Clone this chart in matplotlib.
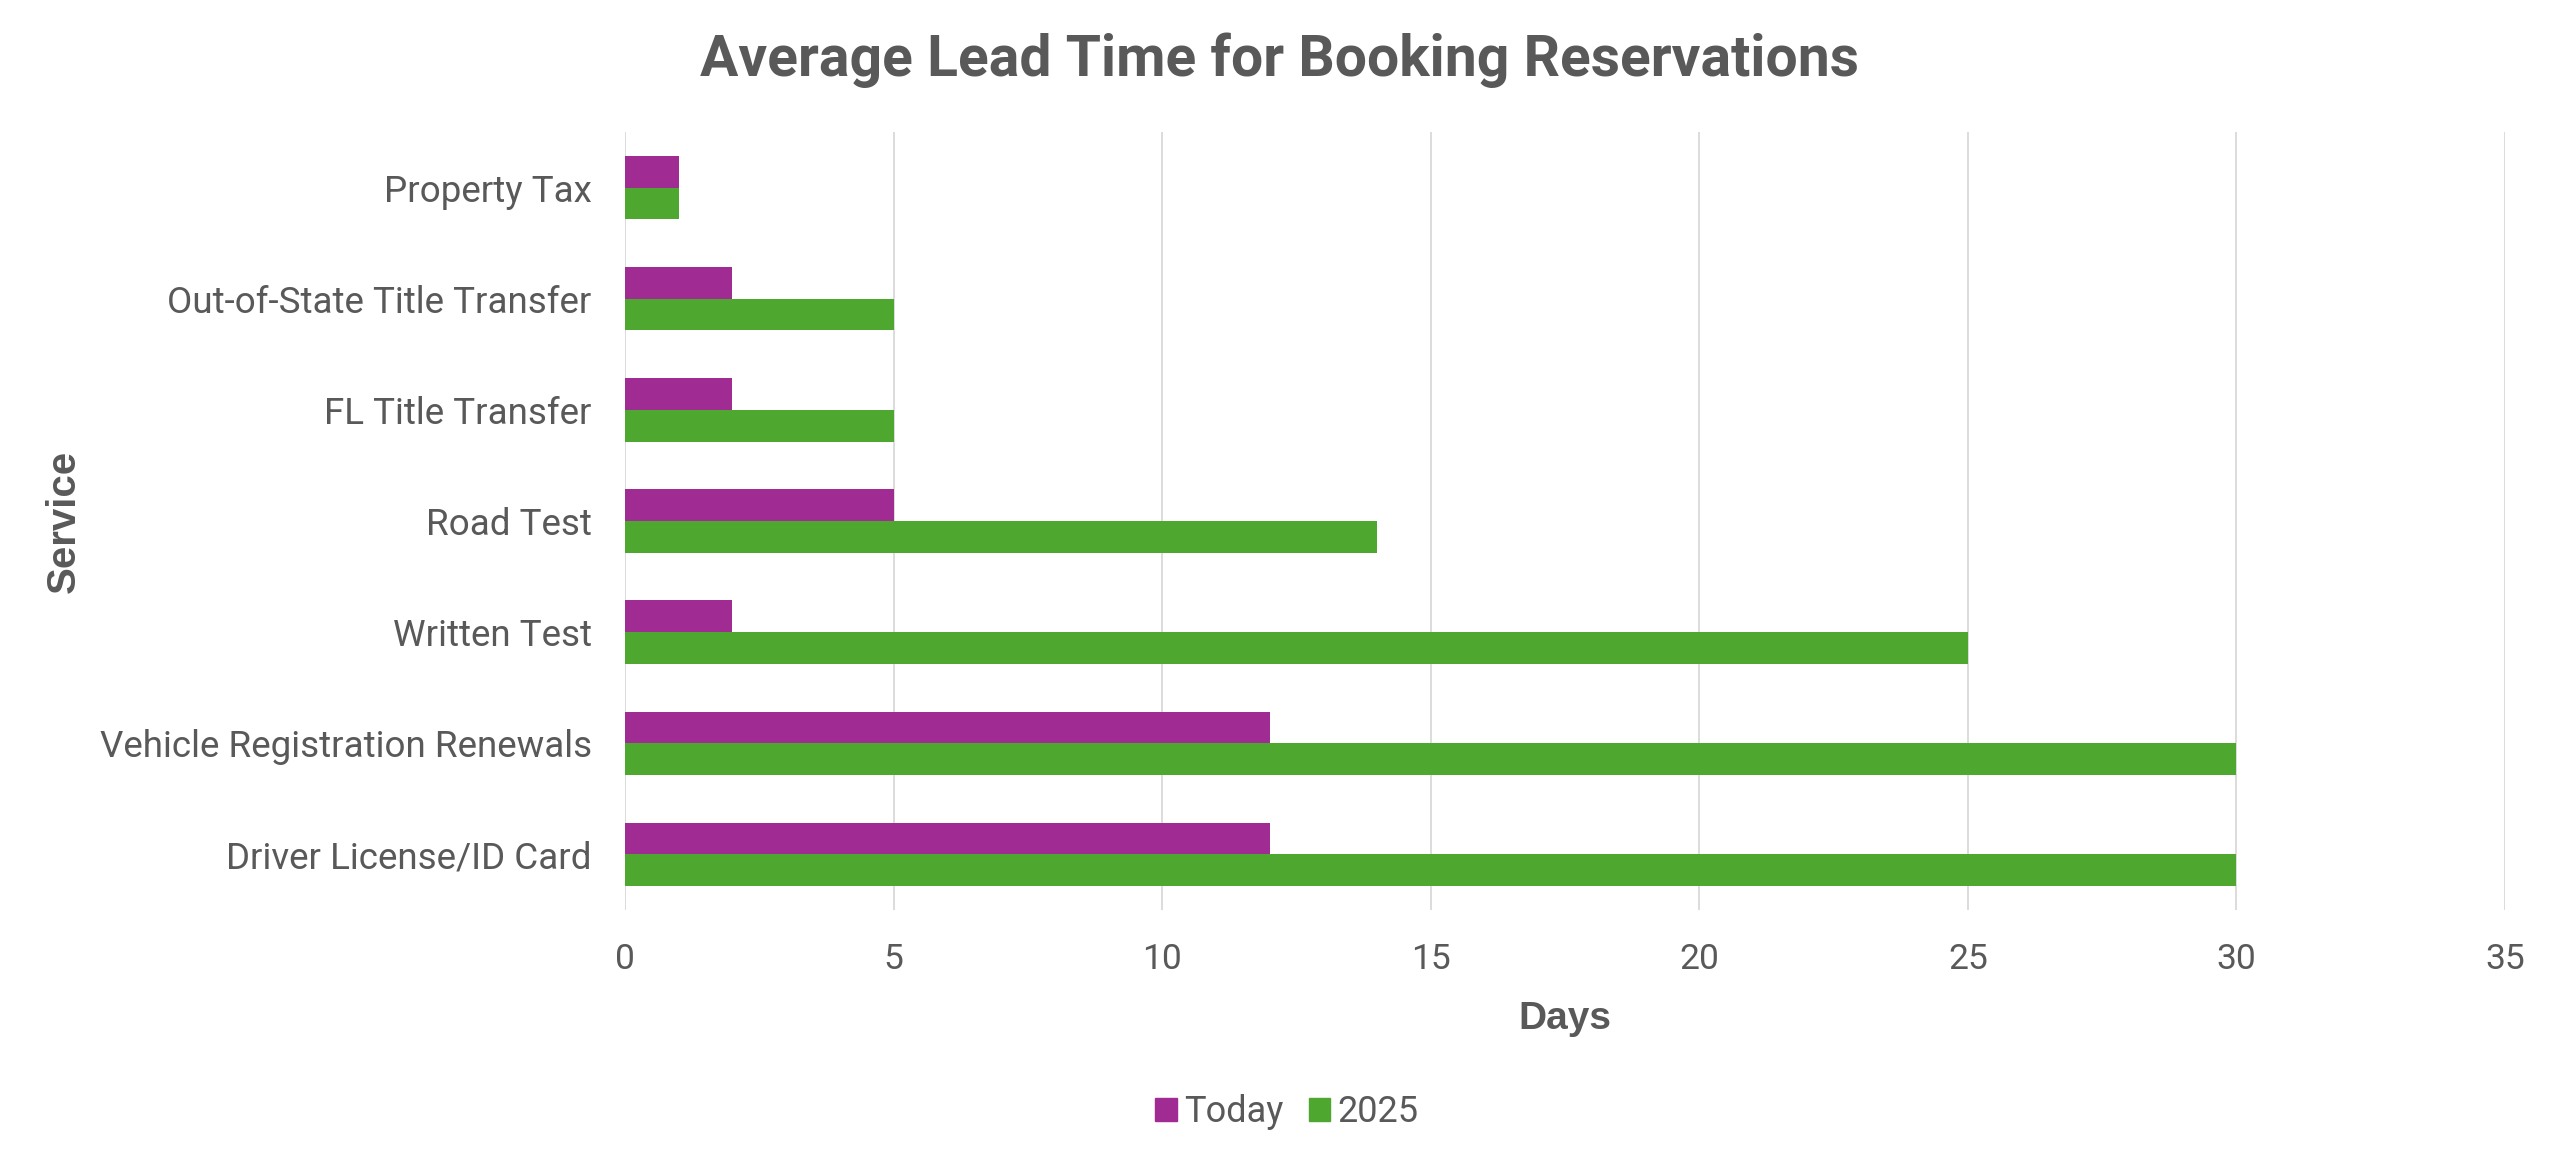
import matplotlib
matplotlib.use("Agg")
import matplotlib.pyplot as plt
import numpy as np
from matplotlib.patches import Patch

services = ["Driver License/ID Card", "Vehicle Registration Renewals", "Written Test",
            "Road Test", "FL Title Transfer", "Out-of-State Title Transfer", "Property Tax"]
today = [12, 12, 2, 5, 2, 2, 1]
y2025 = [30, 30, 25, 14, 5, 5, 1]
xticks = [0, 5, 10, 15, 20, 25, 30, 35]

PURPLE = "#A02B93"
GREEN = "#4EA72E"
TEXT = "#595959"
GRID = "#D9D9D9"

plt.rcParams['font.family'] = ['Roboto', 'DejaVu Sans']

W, H = 2560, 1162
fig = plt.figure(figsize=(W / 100, H / 100), dpi=100)
ax = fig.add_axes([625 / W, 1 - 910 / H, (2505 - 625) / W, (910 - 132) / H])

pos = np.arange(len(services))
bh = 0.285
ax.barh(pos + bh / 2, today, height=bh, color=PURPLE, label="Today", zorder=3)
ax.barh(pos - bh / 2, y2025, height=bh, color=GREEN, label="2025", zorder=3)

ax.set_xlim(0, 35)
ax.set_ylim(-0.5, len(services) - 0.5)
ax.set_xticks(xticks)
ax.set_xticklabels([str(t) for t in xticks])
ax.set_yticks(pos)
ax.set_yticklabels(services)
ax.xaxis.grid(True, color=GRID, linewidth=1.3, zorder=0)
ax.yaxis.grid(False)
for s in ax.spines.values():
    s.set_visible(False)
ax.tick_params(axis='both', length=0, colors=TEXT)
ax.tick_params(axis='x', pad=24, labelsize=25.5)
ax.tick_params(axis='y', pad=24, labelsize=26.5)

fig.text(0.5, 1 - 60 / H, "Average Lead Time for Booking Reservations",
         ha='center', va='center', fontsize=41, fontweight='bold', color=TEXT)
fig.text(1565 / W, 1 - 1019 / H, "Days", ha='center', va='center',
         fontsize=28, fontweight='bold', color=TEXT, family=['Liberation Sans', 'DejaVu Sans'])
fig.text(64 / W, 1 - 521 / H, "Service", ha='center', va='center', rotation=90,
         fontsize=29, fontweight='bold', color=TEXT, family=['Liberation Sans', 'DejaVu Sans'])

handles = [Patch(color=PURPLE, label="Today"), Patch(color=GREEN, label="2025")]
fig.legend(handles=handles, loc='center', bbox_to_anchor=(1287 / W, 1 - 1112 / H),
           ncol=2, frameon=False, fontsize=26, labelcolor=TEXT,
           handlelength=0.6, handleheight=0.6, handletextpad=0.2, columnspacing=0.7)

fig.savefig("out.png", dpi=100, facecolor='white')
